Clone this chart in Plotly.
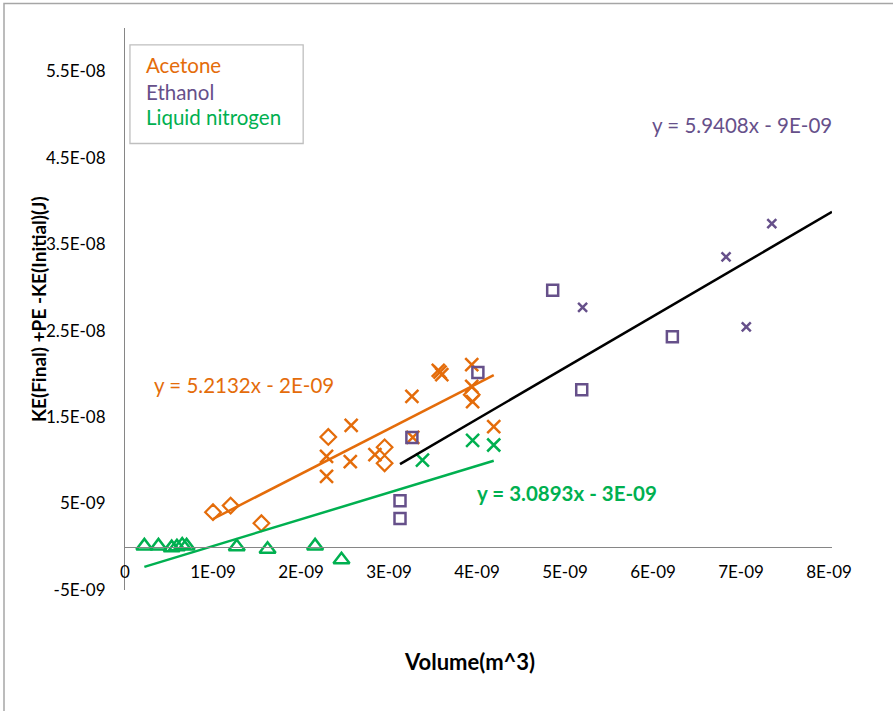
import plotly.graph_objects as go

# ---------------- data ----------------
# Acetone
ace_dia_x = [1.00e-9, 1.20e-9, 1.55e-9, 2.31e-9, 2.95e-9, 2.95e-9, 3.94e-9]
ace_dia_y = [4.0e-9, 4.76e-9, 2.73e-9, 1.27e-8, 1.151e-8, 9.65e-9, 1.758e-8]
ace_x_x = [2.29e-9, 2.29e-9, 2.56e-9, 2.57e-9, 2.84e-9, 3.26e-9, 3.27e-9,
           3.56e-9, 3.60e-9, 3.58e-9, 3.94e-9, 3.94e-9, 3.95e-9, 4.19e-9]
ace_x_y = [1.046e-8, 8.14e-9, 9.84e-9, 1.404e-8, 1.067e-8, 1.740e-8, 1.264e-8,
           2.04e-8, 1.99e-8, 2.02e-8, 2.106e-8, 1.854e-8, 1.680e-8, 1.390e-8]
# Liquid nitrogen
ln_tri_x = [0.22e-9, 0.38e-9, 0.53e-9, 0.59e-9, 0.65e-9, 0.70e-9, 1.27e-9, 1.62e-9, 2.16e-9, 2.46e-9]
ln_tri_y = [0.1e-9, 0.1e-9, -0.1e-9, 0.0, 0.2e-9, 0.1e-9, 0.0, -0.3e-9, 0.1e-9, -1.5e-9]
ln_x_x = [3.38e-9, 3.95e-9, 4.19e-9]
ln_x_y = [1.003e-8, 1.230e-8, 1.177e-8]
# Ethanol
eth_sq_x = [3.125e-9, 3.125e-9, 3.26e-9, 4.01e-9, 4.86e-9, 5.19e-9, 6.22e-9]
eth_sq_y = [5.31e-9, 3.27e-9, 1.264e-8, 2.016e-8, 2.966e-8, 1.816e-8, 2.430e-8]
eth_x_x = [5.20e-9, 6.83e-9, 7.06e-9, 7.35e-9]
eth_x_y = [2.770e-8, 3.353e-8, 2.543e-8, 3.738e-8]

# trendlines (slope, intercept) as labelled
ace_fit = (5.2132, -2e-9)
eth_fit = (5.9408, -9e-9)
ln_fit = (3.0893, -3e-9)

# axes
x_tick_vals = [0, 1e-9, 2e-9, 3e-9, 4e-9, 5e-9, 6e-9, 7e-9, 8e-9]
x_tick_text = ["0", "1E-09", "2E-09", "3E-09", "4E-09", "5E-09", "6E-09", "7E-09", "8E-09"]
y_tick_vals = [-5e-9, 5e-9, 1.5e-8, 2.5e-8, 3.5e-8, 4.5e-8, 5.5e-8]
y_tick_text = ["-5E-09", "5E-09", "1.5E-08", "2.5E-08", "3.5E-08", "4.5E-08", "5.5E-08"]
x_range = [-1e-13, 8.034e-9]
y_range = [-5.0001e-9, 6.0e-8]

ORANGE = "#E46C0A"
PURPLE = "#66508A"
GREEN = "#00B050"
FONT = "Lato"
TXT = 20.5

fig = go.Figure()

def scatter(x, y, symbol, size, color, lw):
    fig.add_trace(go.Scatter(x=x, y=y, mode="markers", showlegend=False,
                             marker=dict(symbol=symbol, size=size, color=color,
                                         line=dict(color=color, width=lw))))

scatter(ace_dia_x, ace_dia_y, "diamond-open", 12, ORANGE, 2.2)
scatter(ace_x_x, ace_x_y, "x-thin-open", 13, ORANGE, 2.5)
scatter(ln_tri_x, ln_tri_y, "triangle-up-open", 14, GREEN, 2.5)
scatter(ln_x_x, ln_x_y, "x-thin-open", 13, GREEN, 2.5)
scatter(eth_sq_x, eth_sq_y, "square-open", 11, PURPLE, 2.5)
scatter(eth_x_x, eth_x_y, "x-thin-open", 9, PURPLE, 2.5)

def trend(xs, fit, color, x_end=None):
    x0 = min(xs)
    x1 = max(xs) if x_end is None else x_end
    m, b = fit
    fig.add_trace(go.Scatter(x=[x0, x1], y=[m * x0 + b, m * x1 + b], mode="lines",
                             showlegend=False, line=dict(color=color, width=2.5)))

trend(ace_dia_x + ace_x_x, ace_fit, ORANGE)
trend(eth_sq_x + eth_x_x, eth_fit, "black", x_end=x_range[1])
trend(ln_tri_x + ln_x_x, ln_fit, GREEN)

def fmt_eq(fit, icpt_txt):
    return "y = %.4fx - %s" % (fit[0], icpt_txt)

def ann(x, y, text, color, ref="data", size=TXT, **kw):
    d = dict(x=x, y=y, xref="x" if ref == "data" else "paper",
             yref="y" if ref == "data" else "paper", xanchor="left", yanchor="middle",
             showarrow=False, text=text, font=dict(family=FONT, size=size, color=color))
    d.update(kw)
    return d

annotations = [
    ann(0.307e-9, 1.874e-8, fmt_eq(ace_fit, "2E-09"), ORANGE),
    ann(5.97e-9, 4.875e-8, fmt_eq(eth_fit, "9E-09"), PURPLE),
    ann(3.98e-9, 6.2e-9, "<b>" + fmt_eq(ln_fit, "3E-09") + "</b>", GREEN),
    # legend texts
    ann(0.027, 0.934, "Acetone", ORANGE, ref="paper"),
    ann(0.027, 0.887, "Ethanol", PURPLE, ref="paper"),
    ann(0.027, 0.842, "Liquid nitrogen", GREEN, ref="paper"),
    # axis titles
    ann(-0.123, 0.5, "<b>KE(Final) +PE -KE(Initial)(J)</b>", "black", ref="paper",
        size=19, xanchor="center", textangle=-90),
    ann(0.487, -0.128, "<b>Volume(m^3)</b>", "black", ref="paper", size=22, xanchor="center"),
]

shapes = [
    dict(type="rect", xref="paper", yref="paper", x0=0.007, x1=0.252, y0=0.7945, y1=0.970,
         line=dict(color="#BFBFBF", width=1.3), fillcolor="rgba(0,0,0,0)"),
    dict(type="rect", xref="paper", yref="paper", x0=(4 - 125) / 707, x1=1.2,
         y0=-0.3, y1=(590 - 3.5) / 562, line=dict(color="#A6A6A6", width=1.5),
         fillcolor="rgba(0,0,0,0)"),
]

fig.update_layout(
    width=893, height=711,
    margin=dict(l=125, r=61, t=28, b=121),
    paper_bgcolor="white", plot_bgcolor="white",
    showlegend=False,
    font=dict(family=FONT, size=17, color="black"),
    annotations=annotations, shapes=shapes,
    xaxis=dict(range=x_range, tickvals=x_tick_vals, ticktext=x_tick_text,
               showgrid=False, zeroline=False, showline=True, linecolor="#868686", linewidth=1,
               anchor="free", position=(0 - y_range[0]) / (y_range[1] - y_range[0]),
               ticks="outside", ticklen=10, tickcolor="rgba(0,0,0,0)",
               tickfont=dict(family=FONT, size=17, color="black")),
    yaxis=dict(range=y_range, tickvals=y_tick_vals, ticktext=y_tick_text,
               showgrid=False, zeroline=False, showline=True, linecolor="#868686", linewidth=1,
               ticks="outside", ticklen=15, tickcolor="rgba(0,0,0,0)",
               tickfont=dict(family=FONT, size=17, color="black")),
)

fig.write_html("out.html")
